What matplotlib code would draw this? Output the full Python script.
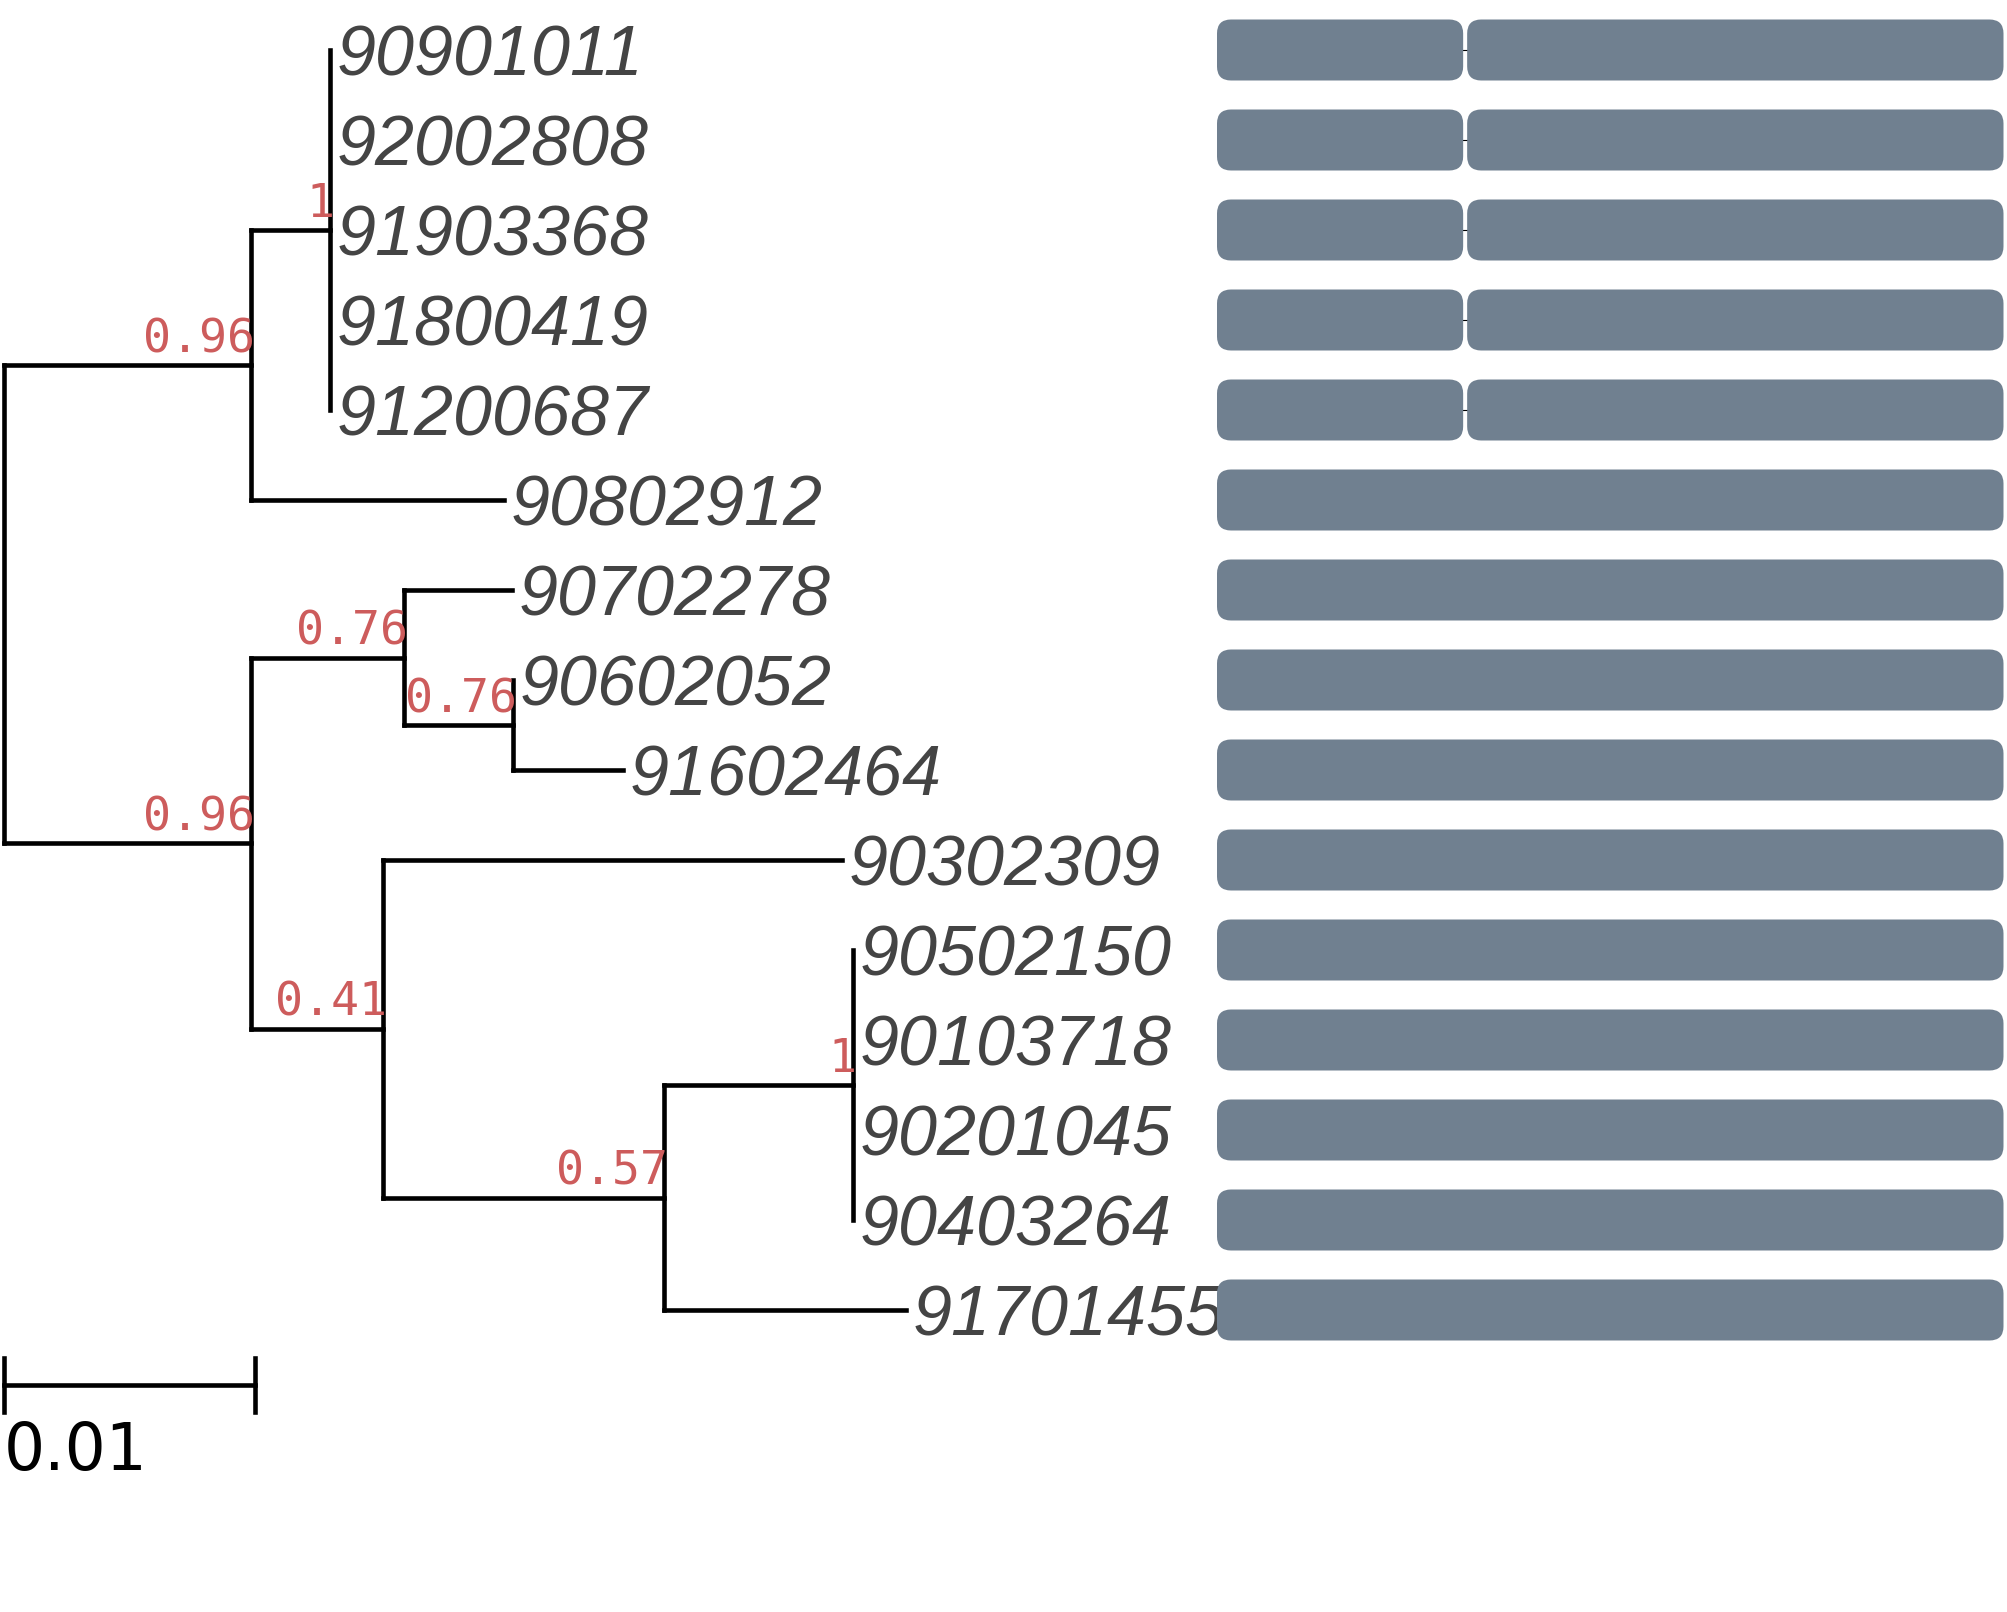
#!/usr/bin/env python3

import matplotlib
matplotlib.use('Agg')
import matplotlib.pyplot as plt
from matplotlib.patches import FancyBboxPatch

# internal nodes of the tree: parent, branch length, support
node_names = ['n0', 'n1', 'n2', 'n3', 'n4', 'n5', 'n6', 'n7', 'n8']
node_parent = [None, 'n0', 'n1', 'n0', 'n3', 'n4', 'n3', 'n6', 'n7']
node_length = [0.0, 0.00984, 0.00315, 0.00984, 0.0061, 0.00434, 0.00526, 0.0112, 0.00751]
node_support = [None, 0.96, 1, 0.96, 0.76, 0.76, 0.41, 0.57, 1]

# leaves, top to bottom
tip_names = ['90901011', '92002808', '91903368', '91800419', '91200687',
             '90802912', '90702278', '90602052', '91602464', '90302309',
             '90502150', '90103718', '90201045', '90403264', '91701455']
tip_parent = ['n2', 'n2', 'n2', 'n2', 'n2', 'n1', 'n4', 'n5', 'n5', 'n6',
              'n8', 'n8', 'n8', 'n8', 'n7']
tip_length = [0.0, 0.0, 0.0, 0.0, 0.0, 0.01008, 0.0043, 0.0, 0.00438, 0.01829,
              0.0, 0.0, 0.0, 0.0, 0.00963]

# domain architecture per leaf (residue ranges)
seq_len = 786
split_domains = [(0, 246), (250, 786)]
full_domains = [(0, 786)]
tip_domains = [split_domains] * 5 + [full_domains] * 10

scale_len = 0.01

W, H = 2007, 1612
LINE = 3.3
TEXT_COLOR = '#444444'
SUPPORT_COLOR = '#cd5c5c'
BAR_COLOR = '#708090'


def node_x(name):
    i = node_names.index(name)
    if node_parent[i] is None:
        return 0.0
    return node_x(node_parent[i]) + node_length[i]


def main():
    fig = plt.figure(figsize=(W / 100, H / 100), dpi=100)
    ax = fig.add_axes([0, 0, 1, 1])
    px = 0.01 / 251  # data units per pixel
    ax.set_xlim(-4 * px, (W - 4) * px)
    ylim = ((H - 50) / 90, -50 / 90)
    ax.set_ylim(*ylim)
    ax.axis('off')

    # positions
    nx = {n: node_x(n) for n in node_names}
    tx = [nx[p] + l for p, l in zip(tip_parent, tip_length)]
    ty = list(range(len(tip_names)))

    child_y = {n: [] for n in node_names}
    for p, y in zip(tip_parent, ty):
        child_y[p].append(y)
    ny = {}

    # resolve internal y bottom-up
    def get_y(n):
        if n in ny:
            return ny[n]
        ys = list(child_y[n])
        for c, p in zip(node_names, node_parent):
            if p == n:
                ys.append(get_y(c))
        ny[n] = (min(ys) + max(ys)) / 2
        return ny[n]
    for n in node_names:
        get_y(n)

    kw = dict(color='black', lw=LINE, solid_capstyle='projecting')
    # vertical connectors
    for n in node_names:
        ys = list(child_y[n]) + [ny[c] for c, p in zip(node_names, node_parent) if p == n]
        ax.plot([nx[n], nx[n]], [min(ys), max(ys)], **kw)
    # horizontal branches of internal nodes
    for n, p in zip(node_names, node_parent):
        if p is not None:
            ax.plot([nx[p], nx[n]], [ny[n], ny[n]], **kw)
    # leaf branches
    for x, y, p in zip(tx, ty, tip_parent):
        if x > nx[p]:
            ax.plot([nx[p], x], [y, y], **kw)

    # support values
    for n, s in zip(node_names, node_support):
        if s is None:
            continue
        ax.annotate(f'{s:g}', (nx[n], ny[n]), xytext=(3, 2), textcoords='offset points',
                    ha='right', va='bottom', color=SUPPORT_COLOR,
                    family='DejaVu Sans Mono', fontsize=33.5)

    # leaf names
    for name, x, y in zip(tip_names, tx, ty):
        ax.annotate(name, (x, y), xytext=(5, 0), textcoords='offset points',
                    ha='left', va='center_baseline', color=TEXT_COLOR,
                    family=['Liberation Sans', 'DejaVu Sans'], style='italic',
                    fontsize=50.5)

    # scale bar
    sy = (1385 - 50) / 90
    ax.plot([0, scale_len], [sy, sy], color='black', lw=LINE)
    for x in (0, scale_len):
        ax.plot([x, x], [sy - 0.3, sy + 0.3], color='black', lw=LINE)
    ax.text(0, (1420 - 50) / 90, f'{scale_len:g}', ha='left', va='top',
            family='DejaVu Sans', fontsize=46.5, color='black')

    # domain bars
    left = 1217 / W
    ax2 = fig.add_axes([left, 0, (seq_len + 0.5) / W, 1])
    ax2.set_xlim(0, seq_len)
    ax2.set_ylim(*ylim)
    ax2.axis('off')
    ax2.patch.set_alpha(0)
    bar_h = 61 / 90
    for y, doms in zip(ty, tip_domains):
        for (a0, b0), (a1, b1) in zip(doms[:-1], doms[1:]):
            ax2.plot([b0 - 2, a1 + 2], [y, y], color='black', lw=0.8, zorder=1)
        for a, b in doms:
            box = FancyBboxPatch((a, y - bar_h / 2), b - a, bar_h,
                                 boxstyle='round,pad=0,rounding_size=14',
                                 mutation_aspect=1 / 90, facecolor=BAR_COLOR,
                                 edgecolor='none', zorder=2)
            ax2.add_patch(box)

    plt.savefig('out.png', dpi=100)


if __name__ == '__main__':
    main()
